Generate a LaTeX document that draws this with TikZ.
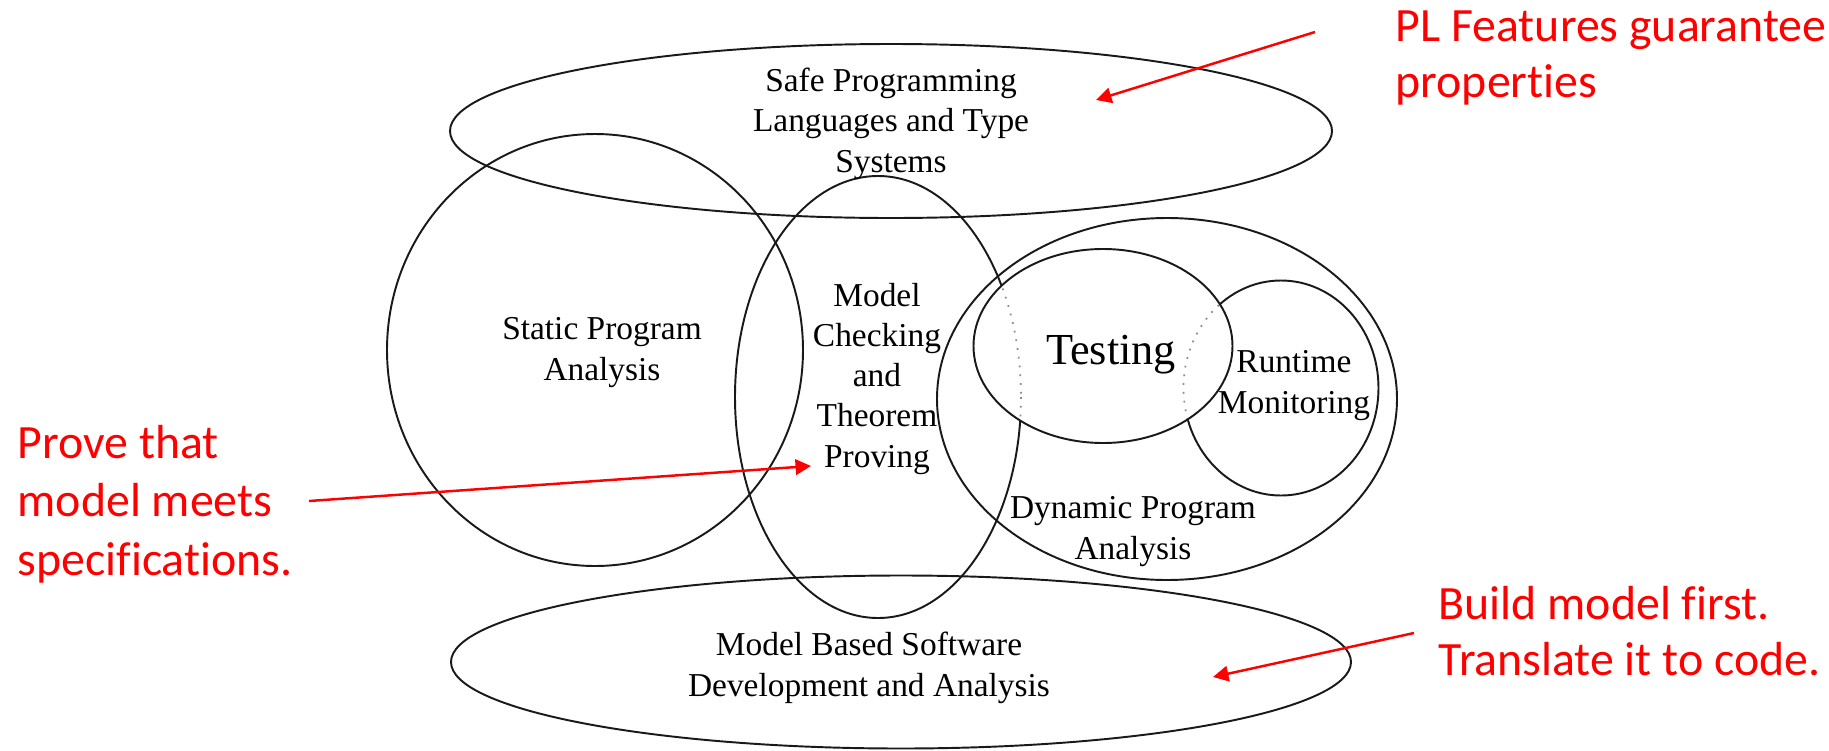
\documentclass[tikz,border=0pt]{standalone}
\usepackage{fontspec}
\setmainfont{Liberation Serif}
\newfontfamily\notefont[Ligatures=NoCommon]{Carlito}
\usetikzlibrary{arrows.meta}

\tikzset{
  venn/.style={draw=black!90, line width=0.55pt},
  hidden/.style={draw=black!45, dotted, line width=0.5pt},
  area/.style={font=\fontsize{9.5}{11.4}\selectfont, align=center, inner sep=0pt, anchor=base},
  note/.style={text=red, font=\notefont\fontsize{13.6}{15.8}\selectfont, align=left, inner sep=0pt, anchor=base west},
  testing path/.style={insert path={(1103,346) ellipse [x radius=129.5, y radius=97]}}
}

\begin{document}
\begin{tikzpicture}[x=0.01cm, y=-0.01cm, >={Triangle[length=4.4pt,width=4.4pt]},
  pointer/.style={->, red, line width=0.7pt}]
  \useasboundingbox (0,0) rectangle (1829,751);

  % areas
  \draw[venn] (891,131) ellipse [x radius=441, y radius=87];
  \draw[venn] (595,350) ellipse [x radius=208, y radius=216];
  \draw[venn] (878,397) ellipse [x radius=143, y radius=221];
  \draw[venn] (1167,399) ellipse [x radius=230, y radius=181];
  \draw[venn] (1281,388) ellipse [x radius=97.5, y radius=107.5];
  \draw[venn] (901,662) ellipse [x radius=450, y radius=86.5];

  % testing lies on top, the others show through dotted
  \fill[white, testing path];
  \begin{scope}
    \clip[testing path];
    \draw[hidden] (878,397) ellipse [x radius=143, y radius=221];
    \draw[hidden] (1281,388) ellipse [x radius=97.5, y radius=107.5];
  \end{scope}
  \draw[venn, testing path];

  % labels (placed at the baseline of their last line)
  \node[area] (safe) at (891,172) {Safe Programming\\Languages and Type\\Systems};
  \node[area] (static) at (602,380) {Static Program\\Analysis};
  \node[area] (model) at (877,467) {Model\\Checking\\and\\Theorem\\Proving};
  \node[area, font=\fontsize{12.6}{15}\selectfont] (testing) at (1111,364) {Testing};
  \node[area] (runtime) at (1294,413) {Runtime\\Monitoring};
  \node[area] (dynamic) at (1133,559) {Dynamic Program\\Analysis};
  \node[area] (mbsd) at (869,696) {Model Based Software\\Development and Analysis};

  % remarks
  \node[note] (plnote) at (1395,97) {PL Features guarantee\\properties};
  \node[note, font=\notefont\fontsize{13.6}{16.5}\selectfont] (provenote) at (17,575) {Prove that\\model meets\\specifications.};
  \node[note] (buildnote) at (1438,675) {Build model first.\\Translate it to code.};

  \coordinate (pltail) at (1315,32);
  \coordinate (pltip) at (1096,100);
  \coordinate (provetail) at (309,501);
  \coordinate (provetip) at (811,466);
  \coordinate (buildtail) at (1414,633);
  \coordinate (buildtip) at (1213,677);
  \draw[pointer] (pltail) -- (pltip);
  \draw[pointer] (provetail) -- (provetip);
  \draw[pointer] (buildtail) -- (buildtip);
\end{tikzpicture}
\end{document}
